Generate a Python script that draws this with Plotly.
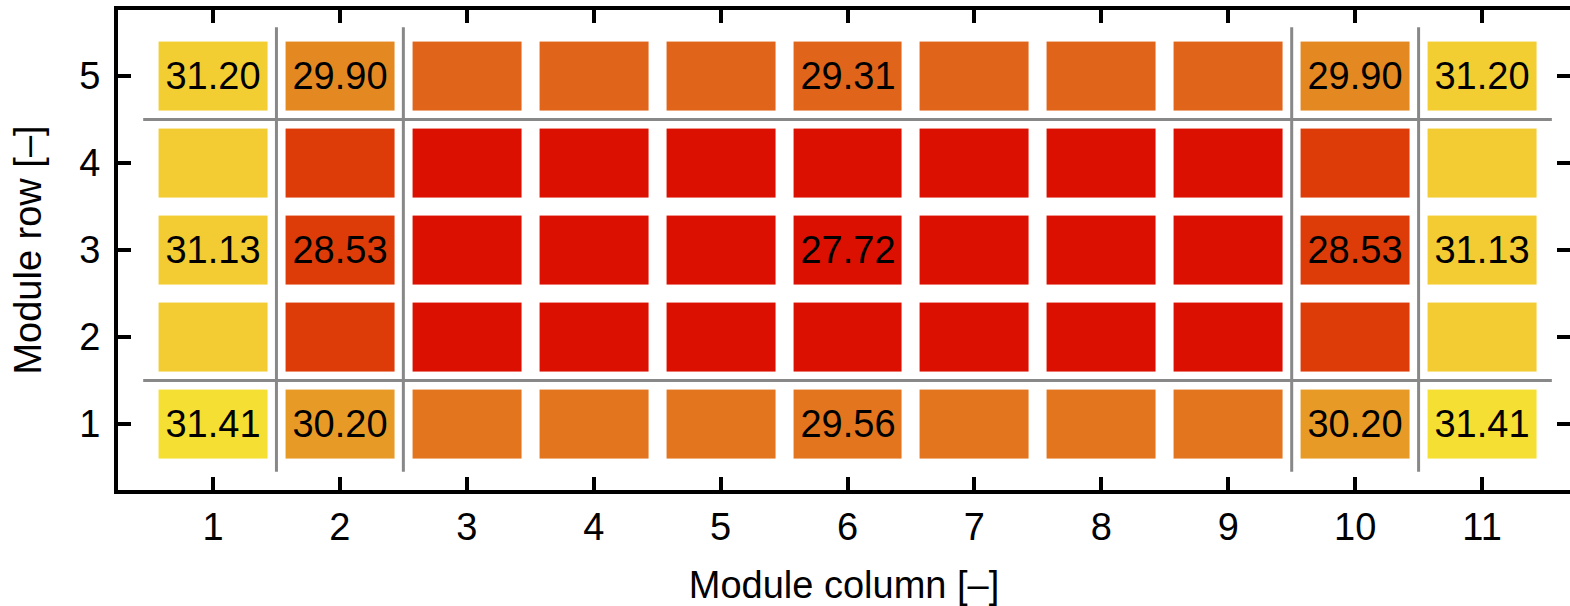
import plotly.graph_objects as go

# Data
columns = [1, 2, 3, 4, 5, 6, 7, 8, 9, 10, 11]
rows = [1, 2, 3, 4, 5]
row1 = [31.41, 30.20, 29.56, 29.56, 29.56, 29.56, 29.56, 29.56, 29.56, 30.20, 31.41]
row2 = [31.13, 28.53, 27.72, 27.72, 27.72, 27.72, 27.72, 27.72, 27.72, 28.53, 31.13]
row3 = [31.13, 28.53, 27.72, 27.72, 27.72, 27.72, 27.72, 27.72, 27.72, 28.53, 31.13]
row4 = [31.13, 28.53, 27.72, 27.72, 27.72, 27.72, 27.72, 27.72, 27.72, 28.53, 31.13]
row5 = [31.20, 29.90, 29.31, 29.31, 29.31, 29.31, 29.31, 29.31, 29.31, 29.90, 31.20]
labeled_columns = [1, 2, 6, 10, 11]
labeled_rows = [1, 3, 5]
group_col_bounds = [1.5, 2.5, 9.5, 10.5]
group_row_bounds = [1.5, 4.5]

# colour stops (value -> colour)
stop_values = [27.72, 28.53, 29.31, 29.56, 29.90, 30.20, 31.13, 31.20, 31.41]
stop_colors = ["rgb(220,16,0)", "rgb(221,60,8)", "rgb(224,101,26)", "rgb(226,117,30)",
               "rgb(228,137,34)", "rgb(232,154,38)", "rgb(242,204,50)", "rgb(242,206,51)",
               "rgb(245,223,51)"]

z = [row1, row2, row3, row4, row5]
vmin, vmax = min(stop_values), max(stop_values)
colorscale = [[(v - vmin) / (vmax - vmin), c] for v, c in zip(stop_values, stop_colors)]

text = []
for ri, r in enumerate(rows):
    line = []
    for ci, c in enumerate(columns):
        line.append(f"{z[ri][ci]:.2f}" if (r in labeled_rows and c in labeled_columns) else "")
    text.append(line)

FONT = "Liberation Sans, Arial, Helvetica, sans-serif"

fig = go.Figure()
fig.add_trace(go.Heatmap(
    x=columns, y=rows, z=z, text=text, texttemplate="%{text}",
    textfont=dict(family=FONT, size=38, color="black"),
    colorscale=colorscale, zmin=vmin, zmax=vmax, showscale=False,
    xgap=18, ygap=18, hoverinfo="skip",
))
# invisible trace to carry right-hand tick axis
fig.add_trace(go.Scatter(x=[columns[0]], y=[rows[0]], yaxis="y2", mode="markers",
                         marker=dict(opacity=0), hoverinfo="skip", showlegend=False))

for xb in group_col_bounds:
    fig.add_shape(type="line", x0=xb, x1=xb, y0=0.45, y1=5.56,
                  line=dict(color="#888888", width=3), layer="above")
for yb in group_row_bounds:
    fig.add_shape(type="line", x0=0.45, x1=11.55, y0=yb, y1=yb,
                  line=dict(color="#888888", width=3), layer="above")

fig.update_layout(
    width=1570, height=606,
    margin=dict(l=118, r=0, t=10, b=109),
    plot_bgcolor="white", paper_bgcolor="white",
    font=dict(family=FONT, size=38, color="black"),
    xaxis=dict(range=[0.2514, 11.693], tickvals=columns, ticktext=[str(c) for c in columns],
               showline=True, linewidth=4, linecolor="black", mirror="ticks",
               ticks="inside", ticklen=13, tickwidth=4, tickcolor="black",
               showgrid=False, zeroline=False, ticklabelstandoff=0,
               title=dict(text="Module column [\u2013]", standoff=32,
                          font=dict(family=FONT, size=38))),
    yaxis=dict(range=[0.241, 5.759], tickvals=rows, ticktext=[str(r) for r in rows],
               showline=True, linewidth=4, linecolor="black",
               ticks="inside", ticklen=13, tickwidth=4, tickcolor="black",
               showgrid=False, zeroline=False, ticklabelstandoff=6,
               title=dict(text="Module row [\u2013]", standoff=27,
                          font=dict(family=FONT, size=38))),
    yaxis2=dict(overlaying="y", side="right", matches="y", tickvals=rows,
                showticklabels=False, showline=False, ticks="inside", ticklen=13,
                tickwidth=4, tickcolor="black", showgrid=False, zeroline=False),
    showlegend=False,
)

fig.write_html("out.html")
